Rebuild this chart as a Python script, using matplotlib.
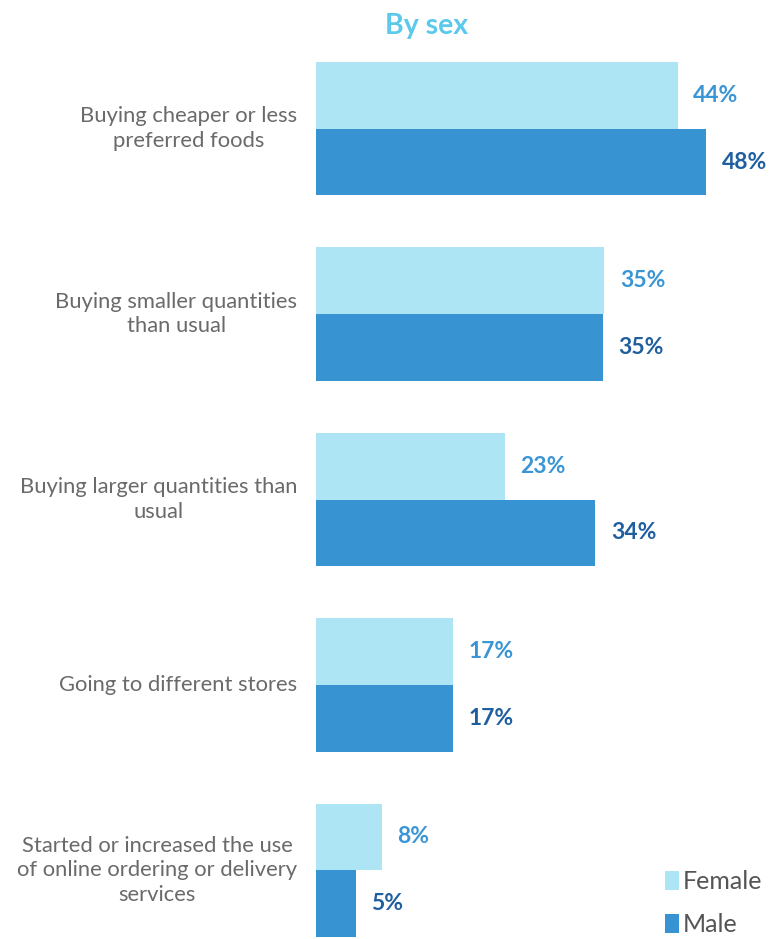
import matplotlib
matplotlib.use("Agg")
import matplotlib.pyplot as plt
import numpy as np

plt.rcParams['font.family'] = ['Lato', 'DejaVu Sans']

categories = [
    "Buying cheaper or less\npreferred foods",
    "Buying smaller quantities\nthan usual",
    "Buying larger quantities than\nusual",
    "Going to different stores",
    "Started or increased the use\nof online ordering or delivery\nservices",
]
female = [44.4, 35.4, 23.2, 16.8, 8.1]
male = [47.9, 35.2, 34.3, 16.8, 4.9]
series_names = ["Female", "Male"]

female_col = "#ade5f5"
male_col = "#3893d3"
female_txt = "#3a95d5"
male_txt = "#1f5f9f"

W, H = 771, 939
fig = plt.figure(figsize=(W / 100, H / 100), dpi=100)
ax = fig.add_axes([316 / W, 2 / H, 448 / W, 875 / H])

h = 0.36
y = np.arange(len(categories))
ax.barh(y - h / 2, female, height=h, color=female_col, label=series_names[0])
ax.barh(y + h / 2, male, height=h, color=male_col, label=series_names[1])

for i in range(len(categories)):
    ax.text(female[i] + 1.9, y[i] - h / 2, f"{female[i]:.0f}%", va="center",
            ha="left", fontsize=16.5, fontweight="bold", color=female_txt)
    ax.text(male[i] + 1.9, y[i] + h / 2, f"{male[i]:.0f}%", va="center",
            ha="left", fontsize=16.5, fontweight="bold", color=male_txt)
    ax.text(-2.3, y[i], categories[i], ha="right", va="center",
            multialignment="center", fontsize=15.8, color="#6a6a6a",
            linespacing=1.28)

ax.set_xlim(0, 55)
ax.set_ylim(len(categories) - 1 + h, -h)
ax.axis("off")

fig.text(427 / W, 1 - 26 / H, "By sex", ha="center", va="center",
         fontsize=20.5, fontweight="bold", color="#5bc8ec")

leg = fig.legend(loc="lower right", bbox_to_anchor=(1.018, -0.021),
                 frameon=False, fontsize=18, handlelength=0.55,
                 handleheight=0.8, handletextpad=0.15, labelspacing=0.8,
                 labelcolor="#555555")

fig.savefig("out.png", dpi=100)
